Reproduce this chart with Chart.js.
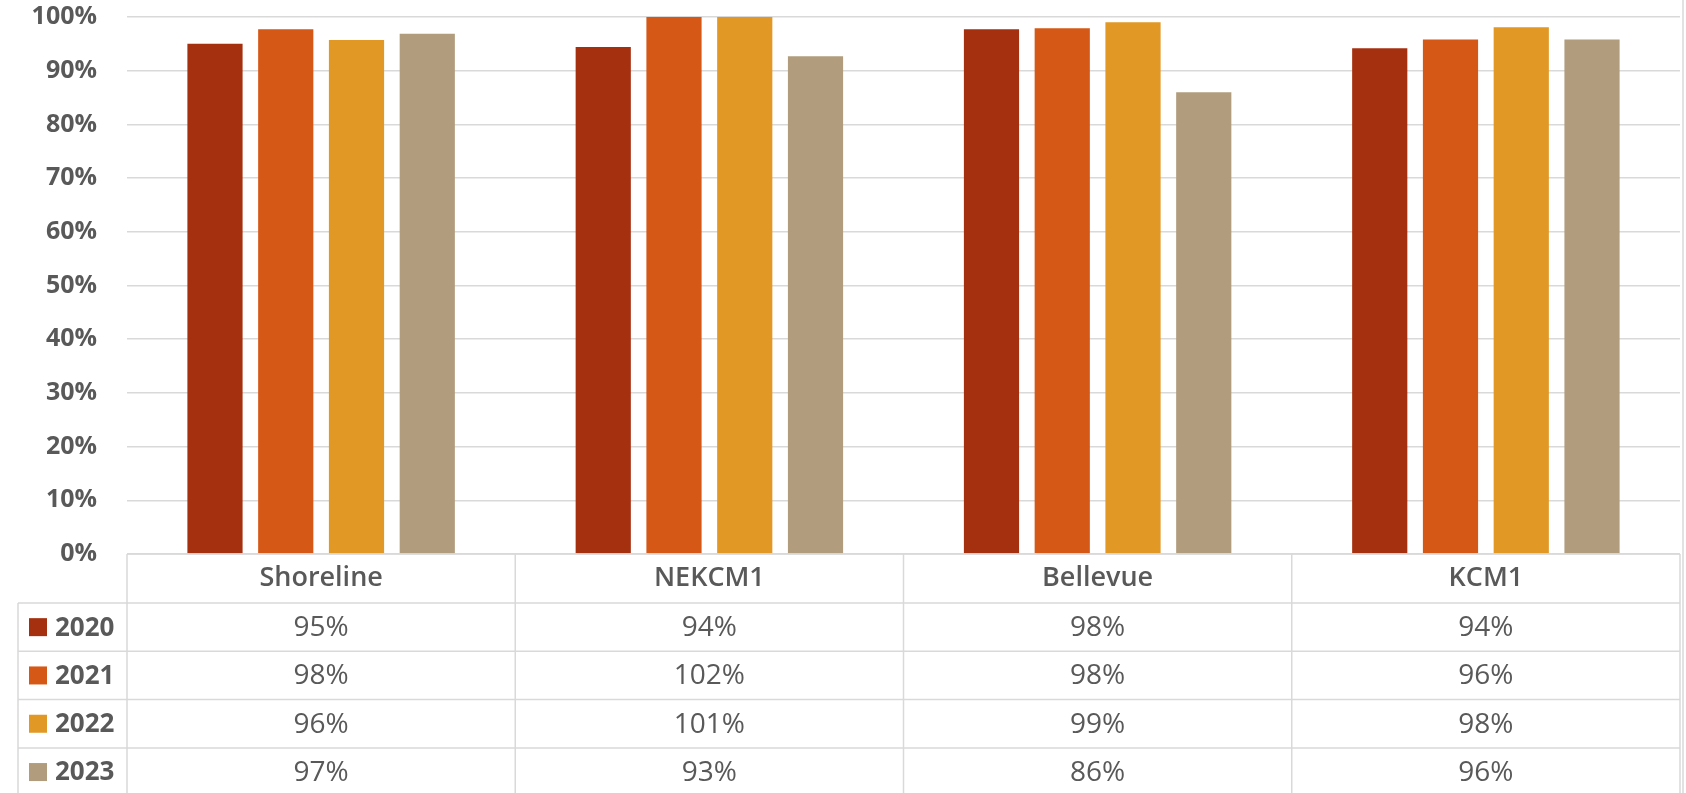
<!DOCTYPE html>
<html lang="en">
<head>
<meta charset="utf-8">
<title>Shoreline, NEKCM1, Bellevue, KCM1</title>
<script src="https://cdn.jsdelivr.net/npm/chart.js@4/dist/chart.umd.min.js"></script>
<style>
  html, body { margin: 0; padding: 0; background: #ffffff; }
  .grafico { position: relative; width: 1686px; height: 793px; }
</style>
</head>
<body>
<div class="grafico">
  <canvas id="graficoBarras"></canvas>
</div>
<script>
const categorias = ["Shoreline", "NEKCM1", "Bellevue", "KCM1"];
const anios = ["2020", "2021", "2022", "2023"];

const valores2020 = [0.950, 0.944, 0.977, 0.942];
const valores2021 = [0.977, 1.02, 0.979, 0.958];
const valores2022 = [0.957, 1.01, 0.990, 0.981];
const valores2023 = [0.969, 0.927, 0.860, 0.958];

const colores = ["#a5300f", "#d55816", "#e19825", "#b19c7d"];
const series = [valores2020, valores2021, valores2022, valores2023];

const colorTexto = "#595959";
const colorLinea = "#d9d9d9";
const fuente = "'Open Sans', 'DejaVu Sans', sans-serif";

function formatearPorcentaje(valor) {
  return `${Math.round(valor * 100)}%`;
}

// tabla de datos debajo del grafico (estilo Excel)
const tablaDatos = {
  id: "tablaDatos",
  afterDraw(chart) {
    const { ctx, chartArea } = chart;
    const escalaX = chart.scales.x;
    const anchoCategoria = (chartArea.right - chartArea.left) / categorias.length;
    const arriba = chartArea.bottom;
    const altoEncabezado = 49;
    const altoFila = 48.3;
    const izquierdaLeyenda = 18;
    const abajo = chart.height;

    ctx.save();
    ctx.strokeStyle = colorLinea;
    ctx.lineWidth = 1.5;

    // lineas horizontales
    ctx.beginPath();
    ctx.moveTo(chartArea.left, arriba);
    ctx.lineTo(chartArea.right, arriba);
    for (let i = 0; i < anios.length; i++) {
      const y = arriba + altoEncabezado + i * altoFila;
      ctx.moveTo(izquierdaLeyenda, y);
      ctx.lineTo(chartArea.right, y);
    }
    ctx.stroke();

    // lineas verticales
    ctx.beginPath();
    ctx.moveTo(izquierdaLeyenda, arriba + altoEncabezado);
    ctx.lineTo(izquierdaLeyenda, abajo);
    for (let i = 0; i <= categorias.length; i++) {
      const x = chartArea.left + i * anchoCategoria;
      ctx.moveTo(x, arriba);
      ctx.lineTo(x, abajo);
    }
    ctx.stroke();

    // borde exterior derecho
    ctx.beginPath();
    ctx.moveTo(chart.width - 3, 0);
    ctx.lineTo(chart.width - 3, abajo);
    ctx.stroke();

    ctx.fillStyle = colorTexto;
    ctx.textBaseline = "middle";
    ctx.textAlign = "center";

    // encabezados
    ctx.font = `600 27px ${fuente}`;
    categorias.forEach((categoria, i) => {
      const x = escalaX.getPixelForValue(i);
      ctx.fillText(categoria, x, arriba + altoEncabezado / 2);
    });

    // filas de valores
    series.forEach((valores, fila) => {
      const yCentro = arriba + altoEncabezado + fila * altoFila + altoFila / 2;

      ctx.fillStyle = colores[fila];
      ctx.fillRect(29, yCentro - 9, 18, 18);

      ctx.fillStyle = colorTexto;
      ctx.textAlign = "left";
      ctx.font = `bold 26px ${fuente}`;
      ctx.fillText(anios[fila], 55, yCentro + 1);

      ctx.textAlign = "center";
      ctx.font = `500 28px ${fuente}`;
      valores.forEach((valor, i) => {
        const x = escalaX.getPixelForValue(i);
        ctx.fillText(formatearPorcentaje(valor), x, yCentro + 1);
      });
    });

    ctx.restore();
  },
};

function obtenerOpcionesBase() {
  return {
    responsive: true,
    maintainAspectRatio: false,
    animation: false,
    layout: {
      padding: { top: 17, bottom: 239, left: 0, right: 6 },
    },
    plugins: {
      legend: { display: false },
      tooltip: { enabled: false },
    },
    scales: {
      x: {
        display: false,
      },
      y: {
        min: 0,
        max: 1,
        border: { display: false },
        grid: {
          color: colorLinea,
          lineWidth: 1.5,
          drawTicks: false,
        },
        ticks: {
          stepSize: 0.1,
          padding: 30,
          color: colorTexto,
          font: { family: fuente, size: 25, weight: "bold" },
          callback: (valor) => formatearPorcentaje(valor),
        },
        afterFit(escala) {
          escala.width = 127;
          escala.paddingTop = 0;
          escala.paddingBottom = 0;
        },
      },
    },
  };
}

function crearGrafico() {
  new Chart(document.getElementById("graficoBarras"), {
    type: "bar",
    data: {
      labels: categorias,
      datasets: anios.map((anio, i) => ({
        label: anio,
        data: series[i],
        backgroundColor: colores[i],
        categoryPercentage: 0.729,
        barPercentage: 0.78,
      })),
    },
    options: obtenerOpcionesBase(),
    plugins: [tablaDatos],
  });
}

crearGrafico();
</script>
</body>
</html>
